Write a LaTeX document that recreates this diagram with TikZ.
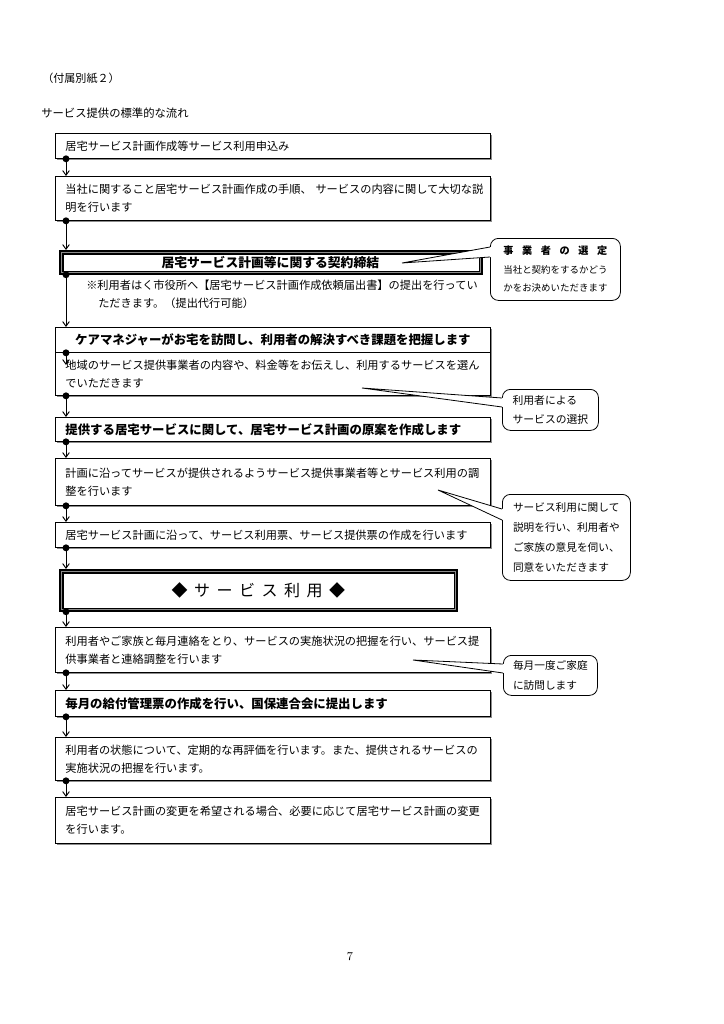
\documentclass[tikz,border=0pt]{standalone}
\usepackage{fontspec}
\newfontfamily\jp{Noto Sans CJK JP}
\usetikzlibrary{arrows.meta,calc,shadows}
\begin{document}
\begin{tikzpicture}[x=0.75pt,y=-0.75pt,
  box/.style={draw=black, line width=0.6pt, fill=white, anchor=north west,
    minimum width=326.25pt, inner sep=0pt, text width=311.25pt, align=left,
    font=\jp\fontsize{8.4pt}{13.5pt}\selectfont,
    drop shadow={shadow xshift=1.1pt, shadow yshift=-1.1pt, fill=black!45, opacity=1}},
  bbox/.style={box, font=\jp\bfseries\fontsize{9.3pt}{13.5pt}\selectfont},
  heavy/.style={draw=black, line width=2.8pt, fill=white, anchor=north west, inner sep=0pt},
  callout/.style={draw=black, line width=0.6pt, fill=white, rounded corners=6pt,
    anchor=north west, inner sep=0pt, align=left},
  flow/.style={line width=0.7pt, -{Straight Barb[length=3.5pt,width=5pt]}},
  txt/.style={anchor=west, inner sep=0pt},
]
\useasboundingbox (0,0) rectangle (724,1024);
\fill[white] (0,0) rectangle (724,1024);

% headers
\node[txt, font=\jp\fontsize{8.3pt}{10pt}\selectfont] (h1) at (42,78) {（付属別紙２）};
\node[txt, font=\jp\fontsize{8.5pt}{10pt}\selectfont] (h2) at (41,113) {サービス提供の標準的な流れ};

% boxes
\node[box, minimum height=18.75pt] (b1) at (55,133) {居宅サービス計画作成等サービス利用申込み};
\node[box, minimum height=33pt] (b2) at (55,176) {当社に関すること居宅サービス計画作成の手順、\mbox{}~サービスの内容に関して大切な説\\明を行います};
\node[heavy, minimum width=315pt, minimum height=15.75pt, text width=300pt, align=left,
  font=\jp\bfseries\fontsize{9.6pt}{11pt}\selectfont] (b3) at (59,250) {\hspace*{68pt}居宅サービス計画等に関する契約締結};
\draw[black!45, line width=0.8pt] ($(b3.north west)+(2.7,2.7)$) rectangle ($(b3.south east)+(-2.7,-2.7)$);
\draw[black, line width=0.4pt] ($(b3.north west)+(3.9,3.9)$) rectangle ($(b3.south east)+(-3.9,-3.9)$);

\node[anchor=north west, inner sep=0pt, align=left, font=\jp\fontsize{8.4pt}{13.5pt}\selectfont] (note) at (86,280)
  {※利用者はく市役所へ【居宅サービス計画作成依頼届出書】の提出を行ってい\\\hspace*{9pt}ただきます。（提出代行可能）};

\node[bbox, minimum height=18.75pt, align=center] (b4) at (55,327) {ケアマネジャーがお宅を訪問し、利用者の解決すべき課題を把握します};
\node[box, minimum height=32.25pt] (b5) at (55,352) {地域のサービス提供事業者の内容や、料金等をお伝えし、利用するサービスを選ん\\でいただきます};
\node[bbox, minimum height=18pt] (b6) at (55,417) {提供する居宅サービスに関して、居宅サービス計画の原案を作成します};
\node[box, minimum height=35.25pt] (b7) at (55,458) {計画に沿ってサービスが提供されるようサービス提供事業者等とサービス利用の調\\整を行います};
\node[box, minimum height=18.75pt] (b8) at (55,522) {居宅サービス計画に沿って、サービス利用票、サービス提供票の作成を行います};
\node[heavy, minimum width=296.25pt, minimum height=29.25pt, align=center,
  font=\jp\fontsize{12pt}{14pt}\selectfont] (b9) at (59,569)
  {\makebox[130pt][s]{◆\hfill サ\hfill ー\hfill ビ\hfill ス\hfill 利\hfill 用\hfill ◆}};
\draw[black!45, line width=0.8pt] ($(b9.north west)+(2.7,2.7)$) rectangle ($(b9.south east)+(-2.7,-2.7)$);
\draw[black, line width=0.4pt] ($(b9.north west)+(3.9,3.9)$) rectangle ($(b9.south east)+(-3.9,-3.9)$);
\node[box, minimum height=33.75pt] (b10) at (55,627) {利用者やご家族と毎月連絡をとり、サービスの実施状況の把握を行い、サービス提\\供事業者と連絡調整を行います};
\node[bbox, minimum height=19.5pt] (b11) at (55,690) {毎月の給付管理票の作成を行い、国保連合会に提出します};
\node[box, minimum height=32.25pt] (b12) at (55,737) {利用者の状態について、定期的な再評価を行います。また、提供されるサービスの\\実施状況の把握を行います。};
\node[box, minimum height=34.5pt] (b13) at (55,797) {居宅サービス計画の変更を希望される場合、必要に応じて居宅サービス計画の変更\\を行います。};

% connectors
\coordinate (ax) at (66,0);
\foreach \a/\b in {b1/b2,b2/b3,b3/b4,b5/b6,b6/b7,b7/b8,b8/b9,b9/b10,b10/b11,b11/b12,b12/b13}{
  \draw[flow] (\a.south -| ax) -- (\b.north -| ax);
}
\draw[flow] (b4.south -| ax) -- ($(b5.north -| ax)+(0,13)$);
\foreach \a in {b1,b2,b3,b4,b5,b6,b7,b8,b9,b10,b11,b12}{
  \fill (\a.south -| ax) circle (2.6pt);
}

% callouts
\node[callout, minimum width=97.5pt, minimum height=46.5pt, font=\jp\fontsize{7.1pt}{13.9pt}\selectfont] (c1) at (490,238)
  {{\bfseries\fontsize{7.6pt}{13.9pt}\selectfont\makebox[78pt][s]{事\hfill 業\hfill 者\hfill の\hfill 選\hfill 定}}\\当社と契約をするかどう\\かをお決めいただきます};
\node[callout, minimum width=72pt, minimum height=30.75pt, font=\jp\fontsize{8.1pt}{14.25pt}\selectfont] (c2) at (502,389)
  {利用者による\\サービスの選択};
\node[callout, minimum width=96pt, minimum height=64.5pt, font=\jp\fontsize{8pt}{15pt}\selectfont] (c3) at (502,494)
  {サービス利用に関して\\説明を行い、利用者や\\ご家族の意見を伺い、\\同意をいただきます};
\node[callout, minimum width=70.5pt, minimum height=30pt, font=\jp\fontsize{8pt}{15pt}\selectfont] (c4) at (503,655)
  {毎月一度ご家庭\\に訪問します};

\coordinate (t1) at (402,263);
\coordinate (t2) at (362,388);
\coordinate (t3) at (438,490);
\coordinate (t4) at (413,660);
\foreach \c/\t/\u/\v in {c1/t1/9/19, c2/t2/9/18, c3/t3/15/26, c4/t4/9/18}{
  \fill[white] (\t) -- ($(\c.north west)+(1,\u)$) -- ($(\c.north west)+(1,\v)$) -- cycle;
  \draw[line width=0.6pt, line join=miter] ($(\c.north west)+(0,\u)$) -- (\t) -- ($(\c.north west)+(0,\v)$);
}

\node[font=\fontsize{9pt}{11pt}\selectfont] (pg) at (350,957) {7};
\end{tikzpicture}
\end{document}
